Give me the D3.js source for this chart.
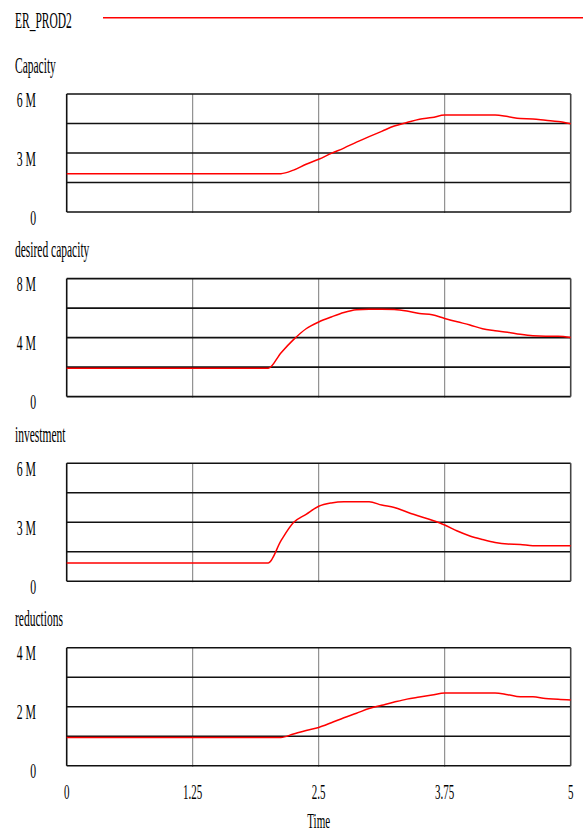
<!DOCTYPE html>
<html>
<head>
<meta charset="utf-8">
<script src="https://cdn.jsdelivr.net/npm/d3@7"></script>
<style>
  body { margin: 0; background: #fff; }
  text { font-family: "Liberation Serif", "Times New Roman", serif; fill: #000; }
</style>
</head>
<body>
<div class="chart"></div>
<script>
// time points (years) shared by all series
let time = [0, 2, 2.125, 2.25, 2.375, 2.5, 2.625, 2.75, 2.875, 3, 3.125, 3.25, 3.375,
  3.5, 3.625, 3.75, 3.875, 4, 4.125, 4.25, 4.375, 4.5, 4.625, 4.75, 4.875, 5]

// values in millions
let capacity = [1.95, 1.95, 1.95, 2.13, 2.43, 2.68, 2.98, 3.25, 3.55, 3.83, 4.1, 4.37, 4.55,
  4.72, 4.8, 4.93, 4.93, 4.93, 4.93, 4.93, 4.85, 4.75, 4.73, 4.66, 4.6, 4.49]
let desiredCapacity = [1.92, 1.92, 2.96, 3.86, 4.6, 5.06, 5.4, 5.7, 5.88, 5.92, 5.92, 5.9, 5.8,
  5.63, 5.55, 5.3, 5.07, 4.86, 4.6, 4.47, 4.36, 4.22, 4.12, 4.09, 4.09, 4.0]
let investment = [0.93, 0.93, 2.05, 2.98, 3.4, 3.81, 3.98, 4.04, 4.04, 4.04, 3.87, 3.75, 3.52,
  3.3, 3.1, 2.86, 2.55, 2.3, 2.12, 1.97, 1.89, 1.87, 1.8, 1.8, 1.8, 1.8]
let reductions = [0.96, 0.96, 0.96, 1.08, 1.2, 1.3, 1.46, 1.63, 1.78, 1.94, 2.05, 2.16, 2.26,
  2.33, 2.4, 2.47, 2.47, 2.47, 2.47, 2.47, 2.41, 2.34, 2.34, 2.28, 2.26, 2.23]

let panelNames = ["Capacity", "desired capacity", "investment", "reductions"]
let panelSeries = [capacity, desiredCapacity, investment, reductions]
let panelMax = [6, 8, 6, 4]
let panelTickLabels = [["0", "3 M", "6 M"], ["0", "4 M", "8 M"], ["0", "3 M", "6 M"], ["0", "2 M", "4 M"]]
let xTicks = [0, 1.25, 2.5, 3.75, 5]
let xTickLabels = ["0", "1.25", "2.5", "3.75", "5"]
let runName = "ER_PROD2"

let width = 583, height = 834
let left = 66.7, right = 570.7
let firstTop = 94, step = 184.6, panelH = 118

let svg = d3.select(".chart")
  .append("svg")
  .attr("width", width)
  .attr("height", height)

// condensed serif text helper
let label = (x, y, str, size, sx, anchor) => {
  svg.append("text")
    .attr("transform", `translate(${x},${y}) scale(${sx},1)`)
    .attr("font-size", size)
    .attr("text-anchor", anchor || "start")
    .text(str)
}

let x = d3.scaleLinear().domain([0, 5]).range([left, right])

// legend
label(15, 28.3, runName, 23, 0.5)
svg.append("line")
  .attr("x1", 103).attr("x2", width)
  .attr("y1", 17.7).attr("y2", 17.7)
  .attr("stroke", "#ff0000")
  .attr("stroke-width", 1.5)

panelSeries.forEach((series, i) => {
  let top = firstTop + i * step
  let bottom = top + panelH
  let max = panelMax[i]
  let y = d3.scaleLinear().domain([0, max]).range([bottom, top])
  let g = svg.append("g")

  label(15, top - 21.5, panelNames[i], 23, 0.5)

  // vertical grid
  g.selectAll(".vgrid")
    .data(xTicks.slice(1, -1))
    .enter()
    .append("line")
    .attr("x1", d => x(d)).attr("x2", d => x(d))
    .attr("y1", top).attr("y2", bottom + 1)
    .attr("stroke", "#7a7a7a")
    .attr("stroke-width", 1)

  // horizontal grid at quarters
  g.selectAll(".hgrid")
    .data(d3.range(5).map(k => k * max / 4))
    .enter()
    .append("line")
    .attr("x1", left).attr("x2", right)
    .attr("y1", d => y(d)).attr("y2", d => y(d))
    .attr("stroke", "#111")
    .attr("stroke-width", 1.6)

  g.append("line")
    .attr("x1", left).attr("x2", left)
    .attr("y1", top).attr("y2", bottom)
    .attr("stroke", "#111").attr("stroke-width", 1.6)
  g.append("line")
    .attr("x1", right).attr("x2", right)
    .attr("y1", top).attr("y2", bottom)
    .attr("stroke", "#444").attr("stroke-width", 1.6)

  // y tick labels
  let tickVals = [0, max / 2, max]
  tickVals.forEach((v, k) => {
    label(36, y(v) + 12.5, panelTickLabels[i][k], 21, 0.56, "end")
  })

  let line = d3.line()
    .x((d, j) => x(time[j]))
    .y(d => y(d))
    .curve(d3.curveMonotoneX)

  g.append("path")
    .datum(series)
    .attr("d", line)
    .attr("fill", "none")
    .attr("stroke", "#ff0000")
    .attr("stroke-width", 1.5)
})

// x tick labels
xTicks.forEach((t, k) => {
  label(x(t), 799, xTickLabels[k], 22, 0.5, "middle")
})
label(x(2.5), 828, "Time", 22, 0.5, "middle")
</script>
</body>
</html>
